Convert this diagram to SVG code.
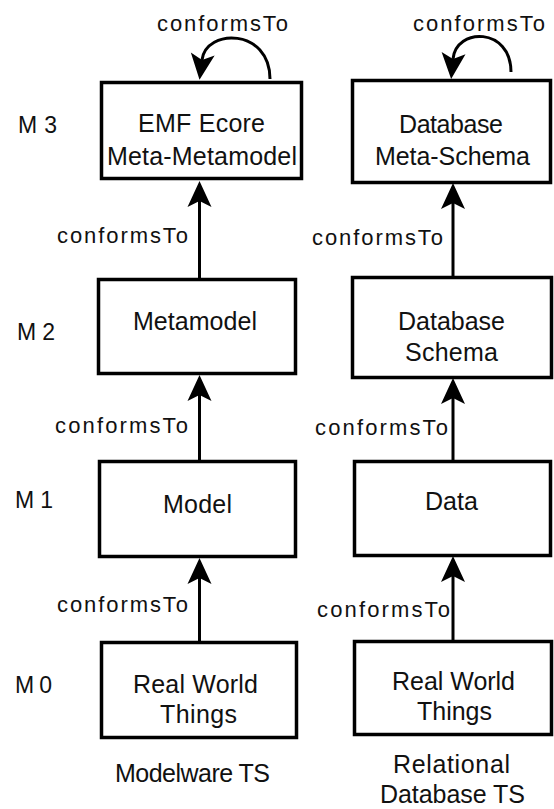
<svg xmlns="http://www.w3.org/2000/svg" width="554" height="809" viewBox="0 0 554 809">
<style>
.box{fill:#fff;stroke:#000;stroke-width:3.5}
.t{font-family:"Liberation Sans",Arial,sans-serif;font-size:25px;fill:#111;text-anchor:middle}
.lbl{font-family:"Liberation Sans",Arial,sans-serif;font-size:22px;fill:#111}
.lv{font-family:"Liberation Sans",Arial,sans-serif;font-size:23px;fill:#111}
.c{fill:none;stroke:#000;stroke-width:3}
</style>
<defs>
<marker id="ah" markerUnits="userSpaceOnUse" viewBox="-8 -14 30 28" markerWidth="30" markerHeight="28" refX="0" refY="0" orient="auto">
<path d="M20,0 L-6,-12 L0,0 L-6,12 z" fill="#000"/>
</marker>
</defs>
<rect width="554" height="809" fill="#fff"/>

<g id="levels">
<text class="lv" x="18" y="133" textLength="39" lengthAdjust="spacing">M3</text>
<text class="lv" x="17" y="340" textLength="38" lengthAdjust="spacing">M2</text>
<text class="lv" x="15" y="508" textLength="38" lengthAdjust="spacing">M1</text>
<text class="lv" x="15" y="693" textLength="37" lengthAdjust="spacing">M0</text>
</g>

<g id="connectors">
<line class="c" x1="199.5" y1="278" x2="199.5" y2="201" marker-end="url(#ah)"/>
<line class="c" x1="199.5" y1="461" x2="199.5" y2="395" marker-end="url(#ah)"/>
<line class="c" x1="199.5" y1="642" x2="199.5" y2="578" marker-end="url(#ah)"/>
<line class="c" x1="453" y1="277" x2="453" y2="203" marker-end="url(#ah)"/>
<line class="c" x1="453" y1="461" x2="453" y2="398" marker-end="url(#ah)"/>
<line class="c" x1="453" y1="641" x2="453" y2="576" marker-end="url(#ah)"/>
<path class="c" d="M270,79 C270,28 206,28 202,60" marker-end="url(#ah)"/>
<path class="c" d="M511,72 C511,27 456,27 453,59" marker-end="url(#ah)"/>
<text class="lbl" x="157" y="31" textLength="131" lengthAdjust="spacing">conformsTo</text>
<text class="lbl" x="413" y="31" textLength="132" lengthAdjust="spacing">conformsTo</text>
<text class="lbl" x="57" y="243" textLength="131" lengthAdjust="spacing">conformsTo</text>
<text class="lbl" x="55" y="433" textLength="133" lengthAdjust="spacing">conformsTo</text>
<text class="lbl" x="57" y="612" textLength="131" lengthAdjust="spacing">conformsTo</text>
<text class="lbl" x="312" y="245" textLength="131" lengthAdjust="spacing">conformsTo</text>
<text class="lbl" x="315" y="435" textLength="133" lengthAdjust="spacing">conformsTo</text>
<text class="lbl" x="317" y="617" textLength="133" lengthAdjust="spacing">conformsTo</text>
</g>

<g id="emf-ecore">
<rect class="box" x="101.5" y="82.5" width="200" height="96"/>
<text class="t" x="201.5" y="132" textLength="127" lengthAdjust="spacing">EMF Ecore</text>
<text class="t" x="202" y="165" textLength="190" lengthAdjust="spacing">Meta-Metamodel</text>
</g>
<g id="metamodel">
<rect class="box" x="98.5" y="279.5" width="197" height="94"/>
<text class="t" x="195" y="330" textLength="124" lengthAdjust="spacing">Metamodel</text>
</g>
<g id="model">
<rect class="box" x="99.5" y="461.5" width="196" height="95"/>
<text class="t" x="197.5" y="513" textLength="69" lengthAdjust="spacing">Model</text>
</g>
<g id="real-world-left">
<rect class="box" x="101.5" y="642.5" width="195" height="95"/>
<text class="t" x="195.5" y="693" textLength="125" lengthAdjust="spacing">Real World</text>
<text class="t" x="198.5" y="723" textLength="77" lengthAdjust="spacing">Things</text>
</g>
<g id="modelware-ts">
<text class="t" x="192.5" y="782" textLength="155" lengthAdjust="spacing">Modelware TS</text>
</g>

<g id="db-meta-schema">
<rect class="box" x="352.5" y="80.5" width="198" height="102"/>
<text class="t" x="451" y="133" textLength="104" lengthAdjust="spacing">Database</text>
<text class="t" x="452.5" y="165" textLength="155" lengthAdjust="spacing">Meta-Schema</text>
</g>
<g id="db-schema">
<rect class="box" x="352.5" y="277.5" width="199" height="100"/>
<text class="t" x="451.5" y="330" textLength="107" lengthAdjust="spacing">Database</text>
<text class="t" x="451.5" y="361" textLength="93" lengthAdjust="spacing">Schema</text>
</g>
<g id="data">
<rect class="box" x="354.5" y="461.5" width="196" height="94"/>
<text class="t" x="451.5" y="510" textLength="53" lengthAdjust="spacing">Data</text>
</g>
<g id="real-world-right">
<rect class="box" x="354.5" y="641.5" width="197" height="93"/>
<text class="t" x="453.5" y="690" textLength="123" lengthAdjust="spacing">Real World</text>
<text class="t" x="454.5" y="720" textLength="75" lengthAdjust="spacing">Things</text>
</g>
<g id="relational-db-ts">
<text class="t" x="451.5" y="773" textLength="117" lengthAdjust="spacing">Relational</text>
<text class="t" x="452.5" y="803" textLength="145" lengthAdjust="spacing">Database TS</text>
</g>
</svg>
